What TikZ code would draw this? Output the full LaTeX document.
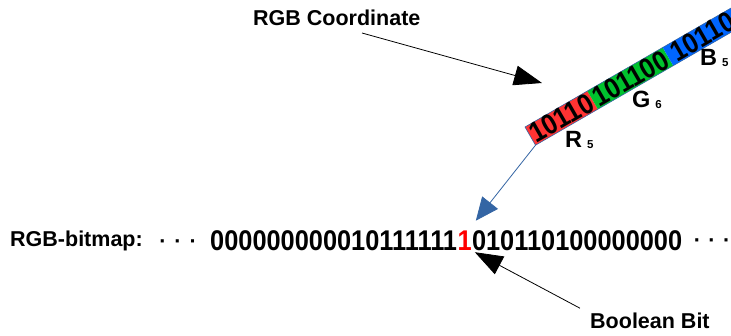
\documentclass[tikz,border=0pt]{standalone}
\usepackage{fontspec}
\setmainfont{Liberation Sans}
\newfontfamily\bitfont[FakeStretch=0.89]{Liberation Sans}
\usetikzlibrary{arrows.meta,calc}

\definecolor{linkblue}{HTML}{3465A4}
\definecolor{chanR}{HTML}{FF3333}
\definecolor{chanG}{HTML}{00C22E}
\definecolor{chanB}{HTML}{0066FF}

\tikzset{
  labeltext/.style={font=\fontsize{21.5}{21.5}\selectfont\bfseries, inner sep=0pt, anchor=base west},
  bits/.style={font=\bitfont\fontsize{28.5}{28.5}\selectfont\bfseries, inner sep=0pt},
  chan/.style={font=\fontsize{23.5}{23.5}\selectfont\bfseries, inner sep=0pt, anchor=base west},
  dotrow/.style={font=\fontsize{21.5}{21.5}\selectfont\bfseries, inner sep=0pt, anchor=base},
  pointer/.style={line width=0.8pt, -{Triangle[length=28pt,width=20pt]}},
  bluepointer/.style={linkblue, line width=0.8pt, -{Triangle[length=23pt,width=20pt]}},
}
% channel letter with its bit count set small beside it
\newcommand\chansub[2]{#1\kern5pt\raisebox{-1pt}{\fontsize{11.5}{11.5}\selectfont #2}}

\begin{document}
\begin{tikzpicture}[x=1pt,y=-1pt]
\clip (0,0) rectangle (731,335);
\fill[white] (0,0) rectangle (731,335);

% the packed 16-bit colour, tilted
\begin{scope}[shift={(525,127)}, rotate=30]
  \fill[chanR] (0,0) rectangle (72,21);
  \fill[chanG] (72,0) rectangle (159,21);
  \fill[chanB] (159,0) rectangle (245,21);
  \draw[linkblue, line width=0.6pt] (245,0) -- (0,0) -- (0,21) -- (245,21);
  \node[bits, rotate=30] (rbits) at (36,10.5) {10110};
  \node[bits, rotate=30] (gbits) at (115.5,10.5) {101100};
  \node[bits, rotate=30] (bbits) at (199,10.5) {10110};
  \coordinate (rcorner) at (0,21);
\end{scope}

\node[chan] (rlab) at (565,147) {\chansub{R}{5}};
\node[chan] (glab) at (632,107) {\chansub{G}{6}};
\node[chan] (blab) at (700,65) {\chansub{B}{5}};

% caption above with its pointer
\node[labeltext] (coordlabel) at (253,25) {RGB Coordinate};
\coordinate (coordtail) at (362,33);
\coordinate (coordtip) at (542,83);
\draw[pointer] (coordtail) -- (coordtip);

% the bitmap row
\node[labeltext] (bmlabel) at (10,246) {RGB-bitmap:};
\node[dotrow] (ldots) at (178,248) {·\kern8pt·\kern8pt·};
\node[bits, anchor=base west] (pre) at (210,250.5) {000000000010111111};
\node[bits, anchor=base west, text=red] (hot) at (pre.base east) {1};
\node[bits, anchor=base west] (post) at (hot.base east) {010110100000000};
\node[dotrow] (rdots) at (712,247) {·\kern7.5pt·\kern7.5pt·};

% pointers onto the selected bit
\draw[bluepointer] (rcorner) -- ($(hot.north east)+(4,-10)$);

\node[labeltext] (boolabel) at (590,328) {Boolean Bit};
\draw[pointer] ($(boolabel.north west)+(-10,-4)$) -- ($(hot.south east)+(3,1.5)$);
\end{tikzpicture}
\end{document}
